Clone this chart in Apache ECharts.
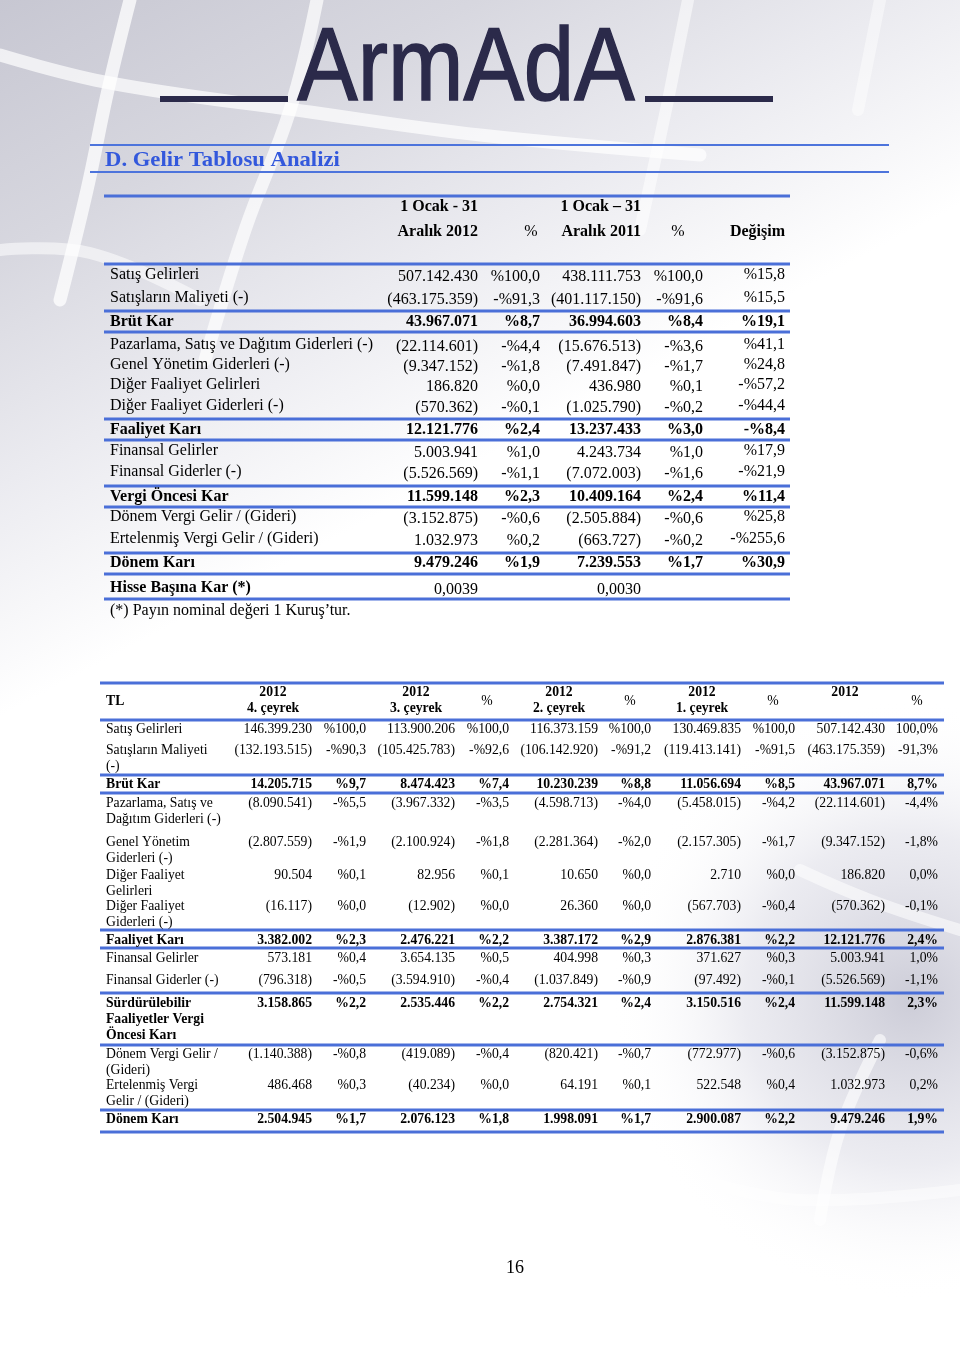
<!DOCTYPE html>
<html><head><meta charset="utf-8">
<script src="https://cdn.jsdelivr.net/npm/echarts@6/dist/echarts.min.js"></script>
<style>html,body{margin:0;padding:0;background:#fff}#c{width:960px;height:1358px}</style>
</head><body><div id="c"></div>
<script>
// ---------- DATA: Table 1 (annual comparison) ----------
const rows1 = ['Satış Gelirleri','Satışların Maliyeti (-)','Brüt Kar','Pazarlama, Satış ve Dağıtım Giderleri (-)','Genel Yönetim Giderleri (-)','Diğer Faaliyet Gelirleri','Diğer Faaliyet Giderleri (-)','Faaliyet Karı','Finansal Gelirler','Finansal Giderler (-)','Vergi Öncesi Kar','Dönem Vergi Gelir / (Gideri)','Ertelenmiş Vergi Gelir / (Gideri)','Dönem Karı','Hisse Başına Kar (*)'];
const val2012 = [507142430,-463175359,43967071,-22114601,-9347152,186820,-570362,12121776,5003941,-5526569,11599148,-3152875,1032973,9479246,0.0039];
const pct2012 = [100.0,-91.3,8.7,-4.4,-1.8,0.0,-0.1,2.4,1.0,-1.1,2.3,-0.6,0.2,1.9,null];
const val2011 = [438111753,-401117150,36994603,-15676513,-7491847,436980,-1025790,13237433,4243734,-7072003,10409164,-2505884,-663727,7239553,0.0030];
const pct2011 = [100.0,-91.6,8.4,-3.6,-1.7,0.1,-0.2,3.0,1.0,-1.6,2.4,-0.6,-0.2,1.7,null];
const change1 = [15.8,15.5,19.1,41.1,24.8,-57.2,-44.4,-8.4,17.9,-21.9,11.4,25.8,-255.6,30.9,null];
const bold1 = [2,7,10,13];
const head1Top = ['1 Ocak - 31','','1 Ocak – 31','',''];
const head1Bottom = ['Aralık 2012','%','Aralık 2011','%','Değişim'];
const note1 = '(*) Payın nominal değeri 1 Kuruş’tur.';

// ---------- DATA: Table 2 (quarterly) ----------
const rows2 = ['Satış Gelirleri','Satışların Maliyeti\n(-)','Brüt Kar','Pazarlama, Satış ve\nDağıtım Giderleri (-)','Genel Yönetim\nGiderleri (-)','Diğer Faaliyet\nGelirleri','Diğer Faaliyet\nGiderleri (-)','Faaliyet Karı','Finansal Gelirler','Finansal Giderler (-)','Sürdürülebilir\nFaaliyetler Vergi\nÖncesi Karı','Dönem Vergi Gelir /\n(Gideri)','Ertelenmiş Vergi\nGelir / (Gideri)','Dönem Karı'];
const q4 = [146399230,-132193515,14205715,-8090541,-2807559,90504,-16117,3382002,573181,-796318,3158865,-1140388,486468,2504945];
const q4p = [100.0,-90.3,9.7,-5.5,-1.9,0.1,0.0,2.3,0.4,-0.5,2.2,-0.8,0.3,1.7];
const q3 = [113900206,-105425783,8474423,-3967332,-2100924,82956,-12902,2476221,3654135,-3594910,2535446,-419089,-40234,2076123];
const q3p = [100.0,-92.6,7.4,-3.5,-1.8,0.1,0.0,2.2,0.5,-0.4,2.2,-0.4,0.0,1.8];
const q2 = [116373159,-106142920,10230239,-4598713,-2281364,10650,26360,3387172,404998,-1037849,2754321,-820421,64191,1998091];
const q2p = [100.0,-91.2,8.8,-4.0,-2.0,0.0,0.0,2.9,0.3,-0.9,2.4,-0.7,0.1,1.7];
const q1 = [130469835,-119413141,11056694,-5458015,-2157305,2710,-567703,2876381,371627,-97492,3150516,-772977,522548,2900087];
const q1p = [100.0,-91.5,8.5,-4.2,-1.7,0.0,-0.4,2.2,0.3,-0.1,2.4,-0.6,0.4,2.2];
const total = [507142430,-463175359,43967071,-22114601,-9347152,186820,-570362,12121776,5003941,-5526569,11599148,-3152875,1032973,9479246];
const totalp = [100.0,-91.3,8.7,-4.4,-1.8,0.0,-0.1,2.4,1.0,-1.1,2.3,-0.6,0.2,1.9];
const bold2 = [2,7,10,13];
const head2 = ['2012\n4. çeyrek','','2012\n3. çeyrek','%','2012\n2. çeyrek','%','2012\n1. çeyrek','%','2012','%'];
const head2Corner = 'TL';

const pageTitle = 'D. Gelir Tablosu Analizi';
const logoText = 'ArmAdA';
const pageNumber = '16';

// ---------- LAYOUT ----------
const SERIF = "'Liberation Serif','Times New Roman',serif";
const L1 = { left:104, right:790, labelX:110, size:16,
  colRight:[478,540,641,703,785], headX:[478,531,641,678,785], headAlign:['right','center','right','center','right'],
  headY:[207,232],
  rowY:[275,298,322,345,365,385,406,430,451,472,497,517,539,563,588],
  rules:[196,264,311,332,419,440,486,507,553,574,599], noteY:611 };
const L2 = { left:100, right:944, labelX:106, size:13.7, lh:16,
  colRight:[312,366,455,509,598,651,741,795,885,938],
  headX:[273,0,416,487,559,630,702,773,845,917],
  headTop:684, cornerY:701,
  rowY:[729,750,784,803,842,875,906,940,958,980,1003,1054,1085,1119],
  rules:[683,720,775,793,930,948,993,1045,1110,1132] };
const RULE = '#4a6fd8';

// ---------- FORMATTERS ----------
function fmtNum(v){
  if (v == null) return '';
  if (Math.abs(v) < 1 && v !== 0) return v.toFixed(4).replace('.', ',');
  const s = Math.abs(v).toString().replace(/\B(?=(\d{3})+(?!\d))/g, '.');
  return v < 0 ? '(' + s + ')' : s;
}
function fmtPct(v){ if (v == null) return ''; const s = Math.abs(v).toFixed(1).replace('.', ','); return (v < 0 ? '-' : '') + '%' + s; }
function fmtPctPost(v){ if (v == null) return ''; const s = Math.abs(v).toFixed(1).replace('.', ','); return (v < 0 ? '-' : '') + s + '%'; }

function txt(api, x, y, text, o){
  const p = api.coord([x, y]);
  return { type:'text', x:p[0], y:p[1], silent:true,
    style:{ text:text, fill:o.color||'#000',
      font:(o.bold?'bold ':'') + o.size + 'px ' + (o.family||SERIF),
      textAlign:o.align||'left', align:o.align||'left',
      textVerticalAlign:o.va||'middle', verticalAlign:o.va||'middle',
      lineHeight:o.lh } };
}
function hline(api, x1, x2, y, color, w){
  const a = api.coord([x1, y]), b = api.coord([x2, y]);
  return { type:'line', silent:true, shape:{x1:a[0],y1:a[1],x2:b[0],y2:b[1]}, style:{stroke:color, lineWidth:w} };
}
function band(pts, w, a){
  return {type:'polyline', silent:true, shape:{points:pts, smooth:0.4}, style:{stroke:'rgba(255,255,255,' + a + ')', lineWidth:w, fill:null, lineCap:'round'}};
}

const chart = echarts.init(document.getElementById('c'), null, {renderer:'canvas'});

const table1Cols = [val2012.map(fmtNum), pct2012.map(fmtPct), val2011.map(fmtNum), pct2011.map(fmtPct), change1.map(fmtPct)];
const table2Cols = [q4.map(fmtNum), q4p.map(fmtPct), q3.map(fmtNum), q3p.map(fmtPct), q2.map(fmtNum), q2p.map(fmtPct), q1.map(fmtNum), q1p.map(fmtPct), total.map(fmtNum), totalp.map(fmtPctPost)];

const option = {
  animation:false,
  backgroundColor:'#ffffff',
  grid:{left:0, right:0, top:0, bottom:0},
  xAxis:{type:'value', min:0, max:960, show:false},
  yAxis:{type:'value', min:0, max:1358, inverse:true, show:false},
  graphic:[
    // background tint
    {type:'rect', silent:true, z:-10, shape:{x:0, y:0, width:960, height:900},
      style:{fill:{type:'linear', x:0, y:0, x2:0.5, y2:1, colorStops:[
        {offset:0, color:'#c7c7d2'}, {offset:0.22, color:'#d7d7df'}, {offset:0.42, color:'#ebebf0'}, {offset:0.62, color:'#ffffff'}, {offset:1, color:'#ffffff'}]}}},
    {type:'circle', silent:true, z:-10, shape:{cx:910, cy:1000, r:300},
      style:{fill:{type:'radial', x:0.5, y:0.5, r:0.5, colorStops:[
        {offset:0, color:'rgba(192,192,206,0.8)'}, {offset:0.55, color:'rgba(212,212,224,0.45)'}, {offset:1, color:'rgba(255,255,255,0)'}]}}},
    // decorative soft bands
    band([[130,0],[108,90],[87,190],[60,300]], 13, 0.75),
    band([[317,0],[290,110],[245,230],[205,360]], 13, 0.7),
    band([[0,55],[110,83],[310,112],[480,135],[700,155]], 13, 0.7),
    band([[688,0],[676,60],[667,105],[640,230]], 12, 0.55),
    band([[880,0],[868,60],[858,110]], 12, 0.45),
    band([[0,250],[90,253],[200,300]], 12, 0.55),
    band([[800,870],[870,900],[960,930]], 12, 0.55),
    band([[880,1040],[840,1130],[820,1220]], 12, 0.6),
    band([[700,1180],[800,1200],[960,1190]], 12, 0.45),
    // logo
    {type:'text', silent:true, x:466, y:123, scaleX:0.88, style:{text:logoText, font:"103px 'Liberation Sans','DejaVu Sans',sans-serif", fill:'#2b2a4a', stroke:'#2b2a4a', lineWidth:1.5, align:'center', verticalAlign:'bottom'}},
    {type:'rect', silent:true, shape:{x:160, y:96, width:128, height:6}, style:{fill:'#2b2a4a'}},
    {type:'rect', silent:true, shape:{x:645, y:96, width:128, height:6}, style:{fill:'#2b2a4a'}},
    // title
    {type:'line', silent:true, shape:{x1:90,y1:145,x2:889,y2:145}, style:{stroke:'#4d74dc', lineWidth:2}},
    {type:'line', silent:true, shape:{x1:90,y1:172,x2:889,y2:172}, style:{stroke:'#4d74dc', lineWidth:2}},
    {type:'text', silent:true, x:105, y:161, scaleX:1.08, style:{text:pageTitle, font:'bold 21px ' + SERIF, fill:'#3358dc', align:'left', verticalAlign:'middle'}},
    // page number
    {type:'text', silent:true, x:515, y:1268, style:{text:pageNumber, font:'18px ' + SERIF, fill:'#000', align:'center', verticalAlign:'middle'}}
  ],
  series:[
    { // table 1 rules
      type:'custom', data:L1.rules.map((_, i) => [i, i]), clip:false,
      renderItem:(p, api) => hline(api, L1.left, L1.right, L1.rules[api.value(0)], RULE, 3)
    },
    { // table 1 header + footnote
      type:'custom', data:[[0,0]], clip:false,
      renderItem:(p, api) => {
        const ch = [];
        head1Top.forEach((t, c) => { if (t) ch.push(txt(api, L1.colRight[c], L1.headY[0], t, {size:L1.size, bold:true, align:'right'})); });
        head1Bottom.forEach((t, c) => ch.push(txt(api, L1.headX[c], L1.headY[1], t, {size:L1.size, bold:t !== '%', align:L1.headAlign[c]})));
        ch.push(txt(api, L1.labelX, L1.noteY, note1, {size:L1.size}));
        return {type:'group', children:ch};
      }
    },
    { // table 1 rows
      type:'custom', data:rows1.map((_, i) => [i, i]), clip:false,
      renderItem:(p, api) => {
        const i = api.value(0), y = L1.rowY[i], b = bold1.includes(i);
        const ch = [txt(api, L1.labelX, y, rows1[i], {size:L1.size, bold:b || i === rows1.length - 1})];
        table1Cols.forEach((col, c) => {
          const dy = b ? 0 : (c === 4 ? 0 : 2);
          ch.push(txt(api, L1.colRight[c], y + dy, col[i], {size:L1.size, bold:b, align:'right'}));
        });
        return {type:'group', children:ch};
      }
    },
    { // table 2 rules
      type:'custom', data:L2.rules.map((_, i) => [i, i]), clip:false,
      renderItem:(p, api) => hline(api, L2.left, L2.right, L2.rules[api.value(0)], RULE, 3)
    },
    { // table 2 header
      type:'custom', data:[[0,0]], clip:false,
      renderItem:(p, api) => {
        const ch = [txt(api, L2.labelX, L2.cornerY, head2Corner, {size:L2.size, bold:true})];
        head2.forEach((t, c) => {
          if (!t) return;
          if (t === '%') ch.push(txt(api, L2.headX[c], L2.cornerY, t, {size:L2.size, align:'center'}));
          else ch.push(txt(api, L2.headX[c], L2.headTop, t, {size:L2.size, bold:true, align:'center', va:'top', lh:L2.lh}));
        });
        return {type:'group', children:ch};
      }
    },
    { // table 2 rows
      type:'custom', data:rows2.map((_, i) => [i, i]), clip:false,
      renderItem:(p, api) => {
        const i = api.value(0), top = L2.rowY[i] - L2.lh / 2, b = bold2.includes(i);
        const ch = [txt(api, L2.labelX, top, rows2[i], {size:L2.size, bold:b, va:'top', lh:L2.lh})];
        table2Cols.forEach((col, c) => ch.push(txt(api, L2.colRight[c], top, col[i], {size:L2.size, bold:b, align:'right', va:'top', lh:L2.lh})));
        return {type:'group', children:ch};
      }
    }
  ]
};
chart.setOption(option);
</script></body></html>
